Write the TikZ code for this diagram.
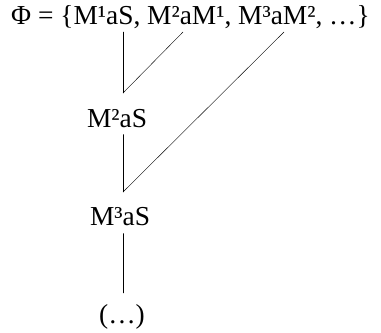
\documentclass[tikz,border=0pt]{standalone}
\usepackage{fontspec}
\setmainfont{Liberation Serif}
\begin{document}
\begin{tikzpicture}[x=1bp,y=-1bp, line cap=round, line join=round,
  every node/.style={inner sep=0pt, anchor=base, font=\fontsize{27.5}{32}\selectfont},
  term/.style={anchor=base}]
\useasboundingbox (0,0) rectangle (381,333);
\node[anchor=base west] (phi) at (11,24) {Φ = \{M¹aS, M²aM¹, M³aM², …\}};
\node[term] (m2) at (117,127) {M²aS};
\node[term] (m3) at (120,225) {M³aS};
\node[term] (dots) at (122,323) {(…)};
% junctions and line ends
\coordinate (t1) at (123,32);
\coordinate (t2) at (183,32);
\coordinate (t3) at (284,32);
\coordinate (j2) at (123,93);
\coordinate (j3) at (123,192);
\coordinate (j4) at (123,293);
\draw (t1) -- (j2);
\draw (t2) -- (j2);
\draw (t3) -- (j3);
\draw (m2.south -| j3) ++(0,7) -- (j3);
\draw (m3.south -| j3) ++(0,8) -- (j4);
\end{tikzpicture}
\end{document}
